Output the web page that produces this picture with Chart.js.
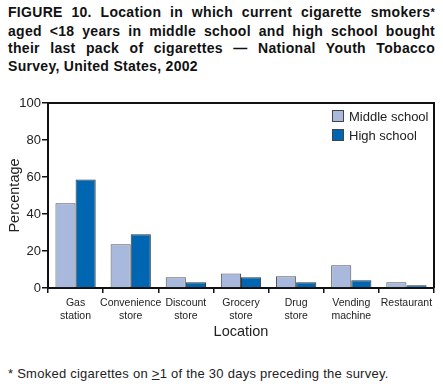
<!DOCTYPE html>
<html>
<head>
<meta charset="utf-8">
<script src="https://cdn.jsdelivr.net/npm/chart.js@4/dist/chart.umd.min.js"></script>
<style>
  body { margin: 0; background: #fff; font-family: Arial, "Liberation Sans", sans-serif; }
  #title {
    position: absolute; left: 8px; top: 4px; width: 427px;
    font-weight: bold; font-size: 14px; line-height: 17.5px; color: #111; letter-spacing: 0.3px;
  }
  #title div { text-align: justify; text-align-last: justify; white-space: nowrap; }
  #title div:last-child { text-align-last: left; }
  #title .star { font-size: 11px; position: relative; top: -1px; }
  #wrap { position: absolute; left: 0; top: 90px; width: 443px; height: 255px; }
  #legend { position: absolute; left: 332px; top: 110px; font-size: 13px; color: #222; }
  #legend div { height: 18.5px; line-height: 14px; white-space: nowrap; }
  #legend span.box {
    display: inline-block; width: 10px; height: 10px; border: 1px solid #444;
    vertical-align: -1px; margin-right: 5px;
  }
  #note { position: absolute; left: 8px; top: 366px; font-size: 13px; letter-spacing: 0.25px; color: #222; }
</style>
</head>
<body>
<div id="title">
  <div>FIGURE 10. Location in which current cigarette smokers<span class="star">*</span></div>
  <div>aged &lt;18 years in middle school and high school bought</div>
  <div>their last pack of cigarettes — National Youth Tobacco</div>
  <div>Survey, United States, 2002</div>
</div>
<div id="wrap"><canvas id="myChart"></canvas></div>
<div id="legend"></div>
<div id="note">* Smoked cigarettes on <u>&gt;</u>1 of the 30 days preceding the survey.</div>
<script>
const locations = [['Gas', 'station'], ['Convenience', 'store'], ['Discount', 'store'], ['Grocery', 'store'], ['Drug', 'store'], ['Vending', 'machine'], ['Restaurant']];
const middleSchool = [45.8, 23.6, 5.8, 7.9, 6.3, 12.3, 3.1];
const highSchool = [58.7, 29.0, 3.1, 5.8, 3.1, 4.2, 1.5];
const yTicks = [0, 20, 40, 60, 80, 100];
const seriesNames = ['Middle school', 'High school'];
const seriesColors = ['#a9b9dd', '#0066b1'];

// frame around the plot (top and right sides)
const frame = {
    id: 'frame',
    afterDraw(chart) {
        const a = chart.chartArea;
        const c = chart.ctx;
        c.save();
        c.strokeStyle = '#111';
        c.lineWidth = 2;
        c.beginPath();
        c.moveTo(a.left, a.top);
        c.lineTo(a.right, a.top);
        c.lineTo(a.right, a.bottom);
        c.stroke();
        c.restore();
    }
};

const ctx = document.getElementById('myChart').getContext('2d');
const myChart = new Chart(ctx, {
    type: 'bar',
    data: {
        labels: locations,
        datasets: [{
            label: seriesNames[0],
            data: middleSchool,
            backgroundColor: seriesColors[0],
            borderColor: '#555',
            borderWidth: 1
        }, {
            label: seriesNames[1],
            data: highSchool,
            backgroundColor: seriesColors[1],
            borderColor: '#333',
            borderWidth: 1
        }]
    },
    options: {
        responsive: true,
        maintainAspectRatio: false,
        animation: false,
        datasets: { bar: { categoryPercentage: 0.73, barPercentage: 1 } },
        layout: { padding: { left: 0, right: 9, top: 13, bottom: 0 } },
        plugins: { legend: { display: false }, tooltip: { enabled: false } },
        scales: {
            x: {
                grid: { drawOnChartArea: false, tickLength: 5, color: '#111', lineWidth: 1.5 },
                border: { color: '#111', width: 2 },
                ticks: { color: '#222', font: { size: 10.5, family: 'Arial' }, padding: 4, maxRotation: 0, autoSkip: false },
                title: { display: true, text: 'Location', color: '#222', font: { size: 14.5, family: 'Arial' }, padding: { top: 0, bottom: 4 } },
                afterFit(scale) { scale.height = 57; }
            },
            y: {
                min: 0, max: 100,
                afterBuildTicks(scale) { scale.ticks = yTicks.map(v => ({ value: v })); },
                grid: { drawOnChartArea: false, tickLength: 6, color: '#111', lineWidth: 1.5 },
                border: { color: '#111', width: 2 },
                ticks: { color: '#222', font: { size: 13, family: 'Arial' }, padding: 1 },
                title: { display: true, text: 'Percentage', color: '#222', font: { size: 14.5, family: 'Arial' }, padding: { top: 6, bottom: 0 } },
                afterFit(scale) { scale.width = 48; }
            }
        }
    },
    plugins: [frame]
});

// legend
const legend = document.getElementById('legend');
seriesNames.forEach(function(name, i) {
    const row = document.createElement('div');
    row.innerHTML = '<span class="box" style="background:' + seriesColors[i] + '"></span>' + name;
    legend.appendChild(row);
});
</script>
</body>
</html>
